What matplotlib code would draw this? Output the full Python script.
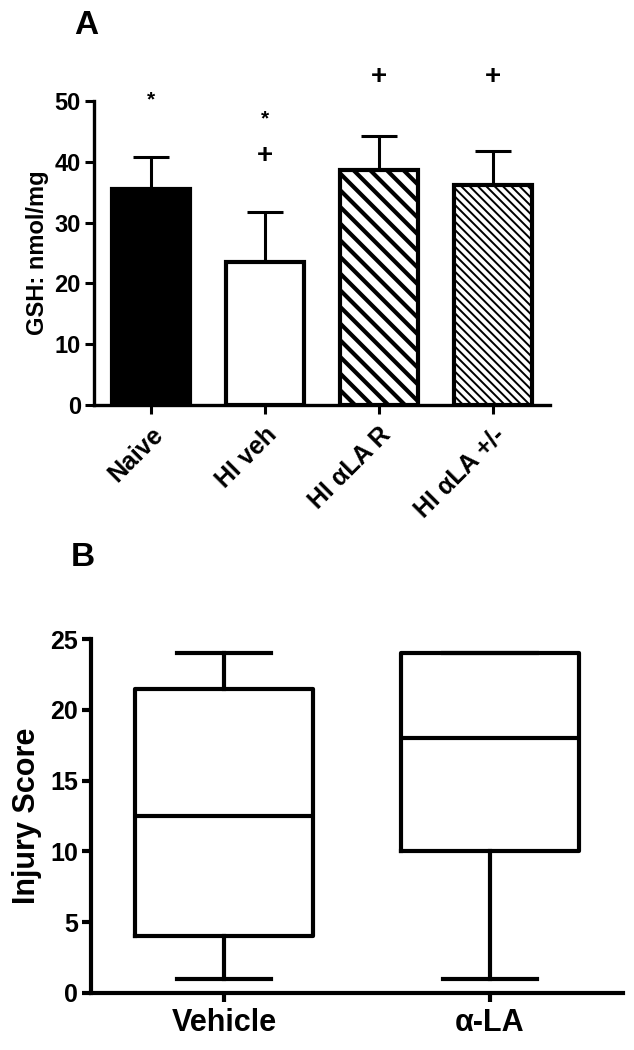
import numpy as np
import matplotlib
matplotlib.use("Agg")
import matplotlib.pyplot as plt
from matplotlib import font_manager

# pick a condensed bold font if we have one
names = {f.name for f in font_manager.fontManager.ttflist}
if "Liberation Sans Narrow" in names:
    plt.rcParams['font.family'] = ['Liberation Sans Narrow', 'Liberation Sans', 'DejaVu Sans']
else:
    plt.rcParams['font.family'] = ['Liberation Sans', 'DejaVu Sans']
plt.rcParams['font.weight'] = 'bold'

# Panel A data
groups = ["Naive", "HI veh", "HI \u03b1LA R", "HI \u03b1LA +/-"]
gsh_mean = [35.5, 23.5, 38.7, 36.2]
gsh_err = [5.3, 8.2, 5.5, 5.6]
star_y = [50.2, 47.0, None, None]
plus_y = [None, 41.0, 54.0, 54.0]

# Panel B data
box_labels = ["Vehicle", "\u03b1-LA"]
box_min = [1, 1]
box_q1 = [4, 10]
box_med = [12.5, 18]
box_q3 = [21.5, 24]
box_max = [24, 24]

fig = plt.figure(figsize=(6.34, 10.5), dpi=100)

# ---- A ----
ax = fig.add_axes([0.1483, 0.6143, 0.7192, 0.2895])
x = np.arange(len(groups))
faces = ['black', 'white', 'white', 'white']
hatches = [None, None, '\\\\', '\\\\\\\\']
hatch_lw = [1.0, 1.0, 3.0, 1.4]
ax.errorbar(x, gsh_mean, yerr=[np.zeros(len(x)), gsh_err], fmt='none',
            ecolor='black', elinewidth=2.2, capsize=13, capthick=2.2, zorder=1)
for i in range(len(x)):
    plt.rcParams['hatch.linewidth'] = hatch_lw[i]
    b = ax.bar(x[i], gsh_mean[i], width=0.68, color=faces[i], edgecolor='black',
               linewidth=3, hatch=hatches[i], zorder=2)
    for p in b:
        try:
            p.set_hatch_linewidth(hatch_lw[i])
        except AttributeError:
            pass

for i in range(len(x)):
    if star_y[i] is not None:
        ax.text(x[i], star_y[i], '*', ha='center', va='center', fontsize=15,
                fontweight='bold', clip_on=False)
    if plus_y[i] is not None:
        ax.text(x[i], plus_y[i], '+', ha='center', va='center', fontsize=20,
                fontweight='bold', clip_on=False)

ax.set_xlim(-0.5, 3.5)
ax.set_ylim(0, 50)
ax.set_yticks([0, 10, 20, 30, 40, 50])
ax.set_xticks(x)
ax.set_xticklabels(groups, rotation=45, ha='right', rotation_mode='anchor', fontsize=18)
ax.set_ylabel("GSH: nmol/mg", fontsize=17, fontweight='bold', labelpad=4)
ax.tick_params(axis='y', labelsize=17, width=2.2, length=6.5, pad=3)
ax.tick_params(axis='x', width=2.2, length=6.5, pad=6)
for s in ['top', 'right']:
    ax.spines[s].set_visible(False)
for s in ['left', 'bottom']:
    ax.spines[s].set_linewidth(2.4)
fig.text(86 / 634, 1 - 25 / 1050, "A", fontsize=24, fontweight='bold',
         ha='center', va='center')

# ---- B ----
bx = fig.add_axes([0.1435, 0.0543, 0.8391, 0.3371])
stats = []
for i in range(len(box_labels)):
    stats.append(dict(med=box_med[i], q1=box_q1[i], q3=box_q3[i],
                      whislo=box_min[i], whishi=box_max[i], fliers=[],
                      label=box_labels[i]))
lp = dict(color='black', linewidth=3)
bx.bxp(stats, positions=[0, 1], widths=0.67, capwidths=0.35, showfliers=False,
       boxprops=lp, whiskerprops=lp, capprops=lp, medianprops=lp)
bx.set_xlim(-0.5, 1.5)
bx.set_ylim(0, 25)
bx.set_yticks([0, 5, 10, 15, 20, 25])
bx.set_xticks([0, 1])
bx.set_xticklabels(box_labels, fontsize=22)
bx.set_ylabel("Injury Score", fontsize=22, fontweight='bold', labelpad=6)
bx.tick_params(axis='y', labelsize=18, width=3, length=6.5, pad=3)
bx.tick_params(axis='x', width=3, length=6.5, pad=4)
for s in ['top', 'right']:
    bx.spines[s].set_visible(False)
for s in ['left', 'bottom']:
    bx.spines[s].set_linewidth(3)
fig.text(83 / 634, 1 - 558 / 1050, "B", fontsize=24, fontweight='bold',
         ha='center', va='center')

fig.savefig("out.png", dpi=100)
